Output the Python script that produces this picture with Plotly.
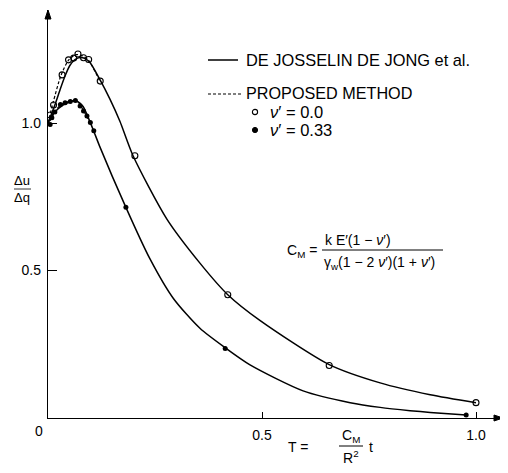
import plotly.graph_objects as go

# ---------------- data ----------------
# Solid curves: DE JOSSELIN DE JONG et al.
T_curve_nu0 = [0.0, 0.016, 0.028, 0.040, 0.051, 0.063, 0.075, 0.087, 0.098, 0.121, 0.145,
               0.168, 0.199, 0.277, 0.355, 0.420, 0.495, 0.657, 0.776, 0.893, 1.0]
U_curve_nu0 = [1.0, 1.061, 1.112, 1.160, 1.195, 1.215, 1.222, 1.218, 1.205, 1.148, 1.080,
               1.006, 0.888, 0.676, 0.525, 0.418, 0.331, 0.181, 0.119, 0.079, 0.052]

T_curve_nu33 = [0.0, 0.005, 0.016, 0.035, 0.058, 0.070, 0.082, 0.095, 0.107, 0.121, 0.182,
                0.238, 0.293, 0.355, 0.414, 0.472, 0.596, 0.706, 0.776, 0.846, 0.893, 0.977]
U_curve_nu33 = [0.997, 1.015, 1.037, 1.061, 1.074, 1.072, 1.056, 1.015, 0.972, 0.920, 0.714,
                0.540, 0.405, 0.304, 0.238, 0.180, 0.092, 0.052, 0.036, 0.025, 0.019, 0.010]

# Dashed curves: PROPOSED METHOD (visible near the peaks)
T_dash_nu0 = [0.0, 0.012, 0.030, 0.048, 0.065, 0.080, 0.095, 0.120]
U_dash_nu0 = [1.0, 1.070, 1.160, 1.213, 1.232, 1.228, 1.212, 1.145]
T_dash_nu33 = [0.0, 0.012, 0.030, 0.050, 0.066, 0.082, 0.100]
U_dash_nu33 = [0.990, 1.030, 1.062, 1.074, 1.076, 1.045, 0.995]

# Points: proposed method
T_open = [0.005, 0.013, 0.033, 0.048, 0.060, 0.070, 0.083, 0.095, 0.122, 0.203, 0.420, 0.657, 1.0]
U_open = [1.027, 1.061, 1.163, 1.214, 1.220, 1.234, 1.221, 1.215, 1.142, 0.889, 0.418, 0.178, 0.052]
T_fill = [0.005, 0.009, 0.016, 0.029, 0.040, 0.052, 0.064, 0.075, 0.083, 0.091, 0.099, 0.107,
          0.182, 0.414, 0.977]
U_fill = [0.995, 1.018, 1.037, 1.063, 1.069, 1.073, 1.076, 1.058, 1.041, 1.024, 1.002, 0.974,
          0.714, 0.236, 0.010]

x_ticks = [0.5, 1.0]
x_tick_text = ["0.5", "1.0"]
y_ticks = [0.5, 1.0]
y_tick_text = ["0.5", "1.0"]

# ---------------- layout helpers ----------------
# The page body has an 8 px margin, so the figure starts at window (8, 8).
OFF = 8
WF, HF = 500, 465                  # figure size
XL, XR, YT, YB = 48, 503, 10, 418  # plot area in window pixels
L, R, T, B = XL - OFF, OFF + WF - XR, YT - OFF, OFF + HF - YB
PX_PER_X = 428.0
PX_PER_Y = 295.0
X_MAX = (XR - XL) / PX_PER_X
Y_MAX = (YB - YT) / PX_PER_Y
FONT = "Liberation Sans, Arial, sans-serif"


def px(x):
    return (x - XL) / (XR - XL)


def py(y):
    return (YB - y) / (YB - YT)


fig = go.Figure()
line_style = dict(color="black", width=1.5)
fig.add_trace(go.Scatter(x=T_curve_nu0, y=U_curve_nu0, mode="lines",
                         line=dict(**line_style, shape="spline", smoothing=0.7)))
fig.add_trace(go.Scatter(x=T_curve_nu33, y=U_curve_nu33, mode="lines",
                         line=dict(**line_style, shape="spline", smoothing=0.7)))
fig.add_trace(go.Scatter(x=T_dash_nu0, y=U_dash_nu0, mode="lines",
                         line=dict(color="black", width=1.2, dash="3px,2px",
                                   shape="spline", smoothing=0.7)))
fig.add_trace(go.Scatter(x=T_dash_nu33, y=U_dash_nu33, mode="lines",
                         line=dict(color="black", width=1.2, dash="3px,2px",
                                   shape="spline", smoothing=0.7)))
fig.add_trace(go.Scatter(x=T_open, y=U_open, mode="markers",
                         marker=dict(symbol="circle-open", size=6, color="black",
                                     line=dict(width=1.1, color="black"))))
fig.add_trace(go.Scatter(x=T_fill, y=U_fill, mode="markers",
                         marker=dict(symbol="circle", size=5, color="black")))

ann = []
shapes = []


def text(x, y, s, size=14, xanchor="center"):
    ann.append(dict(x=px(x), y=py(y), xref="paper", yref="paper", text=s, showarrow=False,
                    xanchor=xanchor, yanchor="middle",
                    font=dict(size=size, color="black", family=FONT)))


def hline(x0, x1, y, width=1.2, dash=None):
    ln = dict(color="black", width=width)
    if dash:
        ln["dash"] = dash
    shapes.append(dict(type="line", xref="paper", yref="paper", x0=px(x0), x1=px(x1),
                       y0=py(y), y1=py(y), line=ln))


def triangle(points):
    path = "M " + " L ".join(f"{px(a):.5f},{py(b):.5f}" for a, b in points) + " Z"
    shapes.append(dict(type="path", xref="paper", yref="paper", path=path,
                       fillcolor="black", line=dict(color="black", width=1)))


# origin label
text(39, 431, "0", 14)

# y-axis label  Δu / Δq
text(22, 181, "Δu", 13)
text(22, 197, "Δq", 13)
hline(14, 31, 189, 0.8)

# x-axis label  T = C_M / R² t
text(298, 447, "T =", 14)
text(351, 436, "C<sub>M</sub>", 14)
hline(339, 363, 446, 1.0)
text(351, 457, "R<sup>2</sup>", 14)
text(371, 447, "t", 14)

# formula
text(302, 251, "C<sub>M</sub> =", 14)
text(323, 240, "k E′(1 − <i>ν</i>′)", 14, xanchor="left")
hline(322, 443, 250, 1.0)
text(322, 263, "γ<sub>w</sub>(1 − 2 <i>ν</i>′)(1 + <i>ν</i>′)", 14, xanchor="left")

# legend
hline(208, 238, 60, 1.5)
text(244, 60, "DE JOSSELIN DE JONG et al.", 16.4, xanchor="left")
hline(208, 241, 94, 1.2, dash="3px,2px")
text(244, 93, "PROPOSED METHOD", 16.2, xanchor="left")
r = 2.6
shapes.append(dict(type="circle", xref="paper", yref="paper",
                   x0=px(255 - r), x1=px(255 + r), y0=py(112 + r), y1=py(112 - r),
                   line=dict(color="black", width=1.1)))
text(268, 112, "<i>ν</i>′ = 0.0", 16.5, xanchor="left")
shapes.append(dict(type="circle", xref="paper", yref="paper",
                   x0=px(255 - r), x1=px(255 + r), y0=py(130 + r), y1=py(130 - r),
                   fillcolor="black", line=dict(color="black", width=1)))
text(268, 130, "<i>ν</i>′ = 0.33", 16.5, xanchor="left")

# axis arrow heads
triangle([(XL, YT), (XL - 3, YT + 9), (XL + 3, YT + 9)])
triangle([(XR, YB), (XR - 9, YB - 3), (XR - 9, YB + 3)])

fig.update_layout(
    width=WF, height=HF,
    margin=dict(l=L, r=R, t=T, b=B, pad=0),
    paper_bgcolor="white", plot_bgcolor="white",
    showlegend=False,
    font=dict(family=FONT, size=14, color="black"),
    annotations=ann, shapes=shapes,
    xaxis=dict(range=[0, X_MAX], showgrid=False, zeroline=False, showline=True,
               linecolor="black", linewidth=1.3, ticks="inside", ticklen=6,
               tickwidth=1.2, tickcolor="black", tickvals=x_ticks, ticktext=x_tick_text,
               ticklabelstandoff=4, tickfont=dict(size=14)),
    yaxis=dict(range=[0, Y_MAX], showgrid=False, zeroline=False, showline=True,
               linecolor="black", linewidth=1.3, ticks="inside", ticklen=9,
               tickwidth=1.2, tickcolor="black", tickvals=y_ticks, ticktext=y_tick_text,
               ticklabelstandoff=3, tickfont=dict(size=14)),
)

fig.write_html("out.html")
